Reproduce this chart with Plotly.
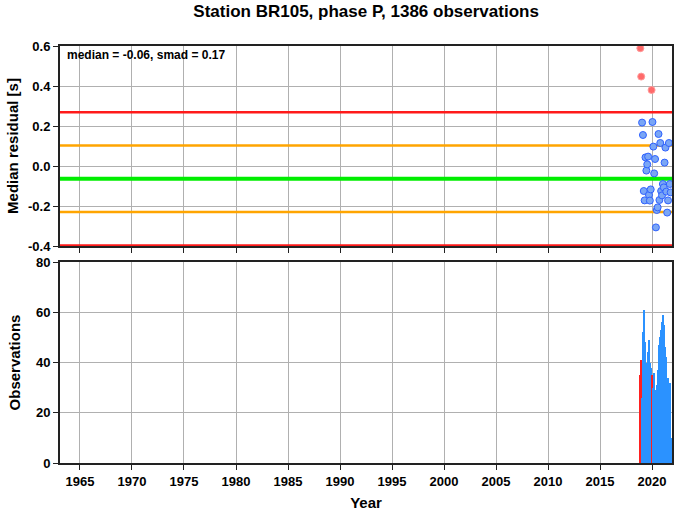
import plotly.graph_objects as go
from plotly.subplots import make_subplots

# Monthly bins (mid-month)
months = ["2018-11-15", "2018-12-15", "2019-01-15", "2019-02-15", "2019-03-15", "2019-04-15",
          "2019-05-15", "2019-06-15", "2019-07-15", "2019-08-15", "2019-09-15", "2019-10-15",
          "2019-11-15", "2019-12-15", "2020-01-15", "2020-02-15", "2020-03-15", "2020-04-15",
          "2020-05-15", "2020-06-15", "2020-07-15", "2020-08-15", "2020-09-15", "2020-10-15",
          "2020-11-15", "2020-12-15", "2021-01-15", "2021-02-15", "2021-03-15", "2021-04-15",
          "2021-05-15", "2021-06-15", "2021-07-15", "2021-08-15", "2021-09-15", "2021-10-15"]
residuals = [0.589, 0.447, 0.217, 0.155, -0.125, -0.172, 0.043, -0.023, 0.008, 0.047, -0.145, -0.173,
             -0.117, 0.38, 0.22, 0.097, -0.037, 0.035, -0.307, -0.22, -0.207, 0.16, -0.17, 0.115,
             -0.125, -0.147, -0.09, -0.107, 0.017, 0.092, -0.128, -0.233, -0.172, 0.115, -0.09, -0.132]
counts = [35, 41, 26, 52, 61, 48, 43, 38, 40, 44, 49, 40,
          38, 35, 25, 30, 36, 29, 29, 31, 37, 42, 47, 50,
          53, 56, 59, 55, 48, 46, 42, 34, 34, 32, 32, 10]
outlier = [True, True, False, False, False, False, False, False, False, False, False, False,
           False, True, False, False, False, False, False, False, False, False, False, False,
           False, False, False, False, False, False, False, False, False, False, False, False]

median = -0.064
smad = 0.1665
title = "Station BR105, phase P, 1386 observations"
year_ticks = ["1965", "1970", "1975", "1980", "1985", "1990", "1995", "2000", "2005", "2010", "2015", "2020"]
resid_ticks = [-0.4, -0.2, 0.0, 0.2, 0.4, 0.6]
obs_ticks = [0, 20, 40, 60, 80]

FONT = "Liberation Sans, Arial, Helvetica, sans-serif"

fig = make_subplots(rows=2, cols=1, shared_xaxes=False, vertical_spacing=0.0)

# reference lines
xr = ["1963-01-30", "2021-12-01"]
for val, col, w in [(median + 2 * smad, "#ff1a1a", 2.5), (median - 2 * smad, "#ff1a1a", 2.5),
                    (median + smad, "#ffa500", 2.5), (median - smad, "#ffa500", 2.5),
                    (median, "#00ee00", 4)]:
    fig.add_trace(go.Scatter(x=xr, y=[val, val], mode="lines", line=dict(color=col, width=w),
                             showlegend=False, hoverinfo="skip"), row=1, col=1)

good_x = [m for m, o in zip(months, outlier) if not o]
good_y = [r for r, o in zip(residuals, outlier) if not o]
bad_x = [m for m, o in zip(months, outlier) if o]
bad_y = [r for r, o in zip(residuals, outlier) if o]

fig.add_trace(go.Scatter(x=good_x, y=good_y, mode="markers",
                         marker=dict(size=7, color="#7aa6f5", line=dict(color="#2f62ff", width=1)),
                         showlegend=False), row=1, col=1)
fig.add_trace(go.Scatter(x=bad_x, y=bad_y, mode="markers",
                         marker=dict(size=7, color="#ff6a6a", line=dict(color="#ff9a9a", width=1)),
                         showlegend=False), row=1, col=1)

bar_w = 30 * 86400000
fig.add_trace(go.Bar(x=months, y=counts, width=bar_w,
                     marker=dict(color=["#ff2020" if o else "#2b92ff" for o in outlier], line=dict(width=0)),
                     showlegend=False), row=2, col=1)

axis_common = dict(showline=True, linecolor="#222", linewidth=2, mirror=True,
                   showgrid=True, gridcolor="#b0b0b0", gridwidth=1,
                   ticks="outside", ticklen=5, tickcolor="#222",
                   tickfont=dict(family=FONT, size=13, color="black", weight="bold"),
                   zeroline=False, automargin=False)

tickvals = [y + "-01-01" for y in year_ticks]
fig.update_xaxes(type="date", range=xr, tickvals=tickvals, ticktext=year_ticks, **axis_common)
fig.update_xaxes(showticklabels=False, row=1, col=1)
fig.update_xaxes(title=dict(text="<b>Year</b>", font=dict(family=FONT, size=15, color="black"), standoff=12),
                 row=2, col=1)

fig.update_yaxes(**axis_common)
fig.update_yaxes(range=[-0.4, 0.6], tickvals=resid_ticks, ticktext=["%.1f" % v for v in resid_ticks],
                 title=dict(text="<b>Median residual [s]</b>", font=dict(family=FONT, size=15, color="black"), standoff=6),
                 row=1, col=1)
fig.update_yaxes(range=[0, 80], tickvals=obs_ticks,
                 title=dict(text="<b>Observations</b>", font=dict(family=FONT, size=15, color="black"), standoff=12),
                 row=2, col=1)

fig.update_layout(
    width=678, height=511,
    margin=dict(l=60, r=6, t=46, b=48),
    paper_bgcolor="white", plot_bgcolor="white",
    bargap=0,
    title=dict(text="<b>" + title + "</b>", xref="container", x=0.54, xanchor="center", y=0.99, yanchor="top",
               font=dict(family=FONT, size=17, color="black")),
    annotations=[dict(text="<b>median = %.2f, smad = %.2f</b>" % (median, smad), xref="paper", yref="paper",
                      x=0.008, y=1.0, xanchor="left", yanchor="top", showarrow=False,
                      font=dict(family=FONT, size=12, color="black"))],
)
fig.update_layout(yaxis=dict(domain=[217 / 417, 1.0]), yaxis2=dict(domain=[0, 201 / 417]))

fig.write_html("out.html", config={"displayModeBar": False},
               post_script="document.body.style.margin='0';")
